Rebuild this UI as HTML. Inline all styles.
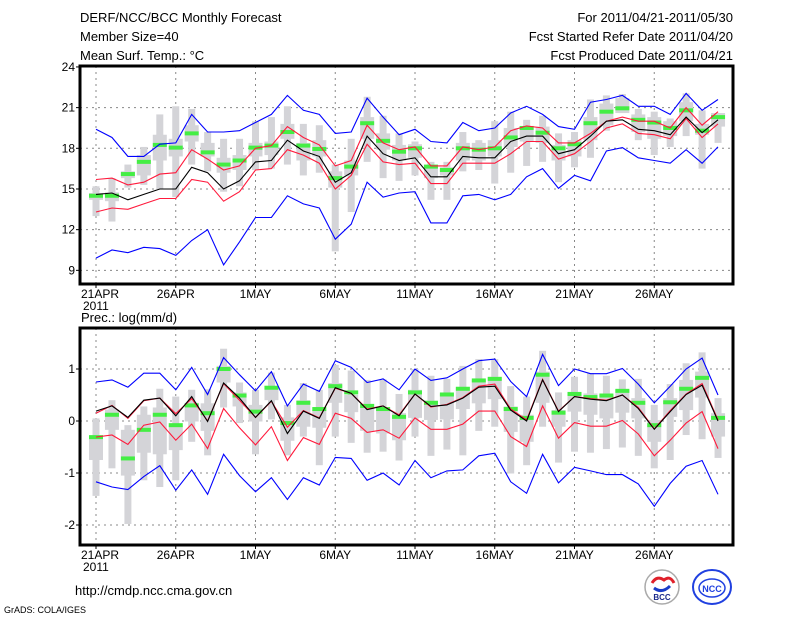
<!DOCTYPE html>
<html><head><meta charset="utf-8">
<style>
body{margin:0;background:#fff;}
svg{display:block;font-family:"Liberation Sans",sans-serif;}
</style></head>
<body>
<svg id="chart" width="800" height="618" viewBox="0 0 800 618" xmlns="http://www.w3.org/2000/svg">
<rect width="800" height="618" fill="#fff"/>
<g font-size="13" fill="#000">
<text x="80" y="22">DERF/NCC/BCC Monthly Forecast</text>
<text x="80" y="41">Member Size=40</text>
<text x="80" y="60">Mean Surf. Temp.: °C</text>
<text x="733" y="22" text-anchor="end">For 2011/04/21-2011/05/30</text>
<text x="733" y="41" text-anchor="end">Fcst Started Refer Date 2011/04/20</text>
<text x="733" y="60" text-anchor="end">Fcst Produced Date 2011/04/21</text>
<text x="81" y="322">Prec.: log(mm/d)</text>
<text x="75" y="595">http://cmdp.ncc.cma.gov.cn</text>
<text x="4" y="613" font-size="9">GrADS: COLA/IGES</text>
</g>
<g>
<circle cx="662" cy="587" r="17" fill="#fff" stroke="#aaa" stroke-width="1.5"/>
<path d="M652 583 q5 -8 12 -3 q6 -5 10 3" stroke="#e0202a" stroke-width="3" fill="none"/>
<path d="M654 588 q8 6 16 -2" stroke="#1a3cc8" stroke-width="3" fill="none"/>
<text x="662" y="600" font-size="8" text-anchor="middle" font-weight="bold" fill="#1a2a8a">BCC</text>
<ellipse cx="712" cy="587" rx="19" ry="17" fill="#fff" stroke="#2040e0" stroke-width="2"/>
<ellipse cx="712" cy="588" rx="13" ry="9" fill="none" stroke="#2040e0" stroke-width="1.5"/>
<text x="712" y="592" font-size="9" text-anchor="middle" font-weight="bold" fill="#2040e0">NCC</text>
</g>
<g id="plots"></g>
</svg>
<script>
// X axis
const days = 40;
const dateLabels = ["21APR","26APR","1MAY","6MAY","11MAY","16MAY","21MAY","26MAY"];
const dateIdx = [0,5,10,15,20,25,30,35];
// Temperature panel
const tTicks = [9,12,15,18,21,24];
const tBU = [19.4,18.8,17.4,17.4,18.3,18.4,20.5,19.2,19.2,19.3,19.9,20.5,21.9,20.8,20.5,19.1,19.2,21.7,20.3,19.0,19.4,18.5,18.4,19.9,19.3,19.5,20.6,21.1,20.5,19.6,19.4,21.4,21.6,21.9,21.1,21.1,20.5,22.05,20.8,21.6];
const tBL = [9.9,10.5,10.3,10.7,10.6,10.1,11.2,12.0,9.4,11.1,12.9,12.9,14.5,13.9,13.6,11.3,12.4,15.5,14.4,14.7,14.8,12.5,12.5,14.5,14.6,14.2,14.6,15.9,16.5,15.05,16.0,15.6,17.8,18.05,17.3,17.1,16.9,17.9,16.9,18.1];
const tRU = [15.7,15.8,15.3,15.5,16.1,16.2,17.9,17.2,16.4,16.7,18.0,18.2,19.6,18.8,18.25,16.7,17.1,19.7,18.4,17.9,18.1,16.7,16.7,18.1,17.9,18.1,19.3,19.65,19.5,18.4,18.4,19.1,20.0,20.3,20.0,20.0,19.5,21.0,19.7,20.7];
const tRL = [13.3,13.6,13.5,13.9,14.3,14.3,15.7,15.5,14.1,14.8,16.4,16.5,17.9,17.5,16.9,15.0,16.0,18.3,17.0,16.8,16.9,15.4,15.4,16.9,16.9,16.9,17.6,18.5,18.5,17.2,17.6,18.5,19.5,19.8,19.1,19.0,18.7,20.2,18.8,19.8];
const tMean = [14.6,14.7,14.2,14.6,15.0,15.0,16.6,16.2,15.0,15.6,17.0,17.1,18.6,17.8,17.4,15.5,16.2,18.9,17.6,17.1,17.3,15.9,15.9,17.4,17.3,17.3,18.5,18.9,18.9,17.6,17.9,18.9,20.0,20.1,19.4,19.3,19.0,20.3,19.15,20.1];
const tGreen = [14.5,14.5,16.1,17.0,18.25,18.05,19.1,17.7,16.8,17.1,18.05,18.2,19.2,18.2,17.95,15.8,16.65,19.85,18.55,17.75,18.0,16.65,16.4,18.0,17.9,18.0,18.8,19.5,19.15,18.0,18.3,19.85,20.7,20.95,20.1,19.9,19.5,20.8,19.3,20.3];
const tMax = [15.2,15.8,16.8,18.1,20.5,21.1,20.9,19.2,18.7,18.7,20.0,20.3,21.1,19.8,19.7,16.8,18.7,21.8,20.4,19.1,18.5,17.0,17.0,19.2,18.6,20.0,20.7,20.1,20.4,19.1,19.2,21.6,21.9,22.0,20.9,20.7,20.2,22.05,20.8,20.6];
const tMin = [13.0,12.6,15.1,15.3,15.0,14.4,16.8,16.3,14.8,15.2,16.4,16.5,16.8,16.0,16.2,10.4,13.3,17.0,15.8,15.6,16.0,14.2,14.2,16.3,16.4,15.4,16.2,16.7,17.0,15.5,16.6,17.3,19.3,20.6,18.6,17.5,18.1,18.9,16.5,18.4];
const tQ3 = [14.7,14.75,16.3,17.5,19.0,18.7,19.7,18.4,17.3,17.5,18.4,18.5,19.8,18.4,18.6,16.3,17.1,20.3,19.1,18.25,18.3,16.6,16.6,18.4,18.4,18.6,19.5,19.5,19.6,18.25,18.6,20.3,21.3,21.7,20.5,20.3,20.0,21.4,19.8,20.6];
const tQ1 = [14.2,14.1,15.8,16.0,17.1,17.4,18.5,17.4,16.2,16.4,17.4,17.5,18.7,17.1,17.4,15.1,16.0,18.7,17.9,17.1,17.3,15.8,16.0,17.1,17.1,17.4,18.1,18.5,18.4,17.1,17.4,18.6,19.7,20.6,19.2,18.7,18.9,20.0,19.0,19.6];
// Precip panel
const pTicks = [-2,-1,0,1];
const pBU = [0.75,0.79,0.65,0.92,0.92,0.6,1.03,0.51,1.22,0.89,0.58,0.95,0.29,0.71,0.57,1.16,1.03,0.74,0.81,0.6,1.0,0.78,0.83,1.0,1.16,1.19,0.76,0.47,1.28,0.68,1.0,0.91,0.91,1.01,0.71,0.35,0.67,1.0,1.21,0.5];
const pBL = [-1.17,-1.27,-1.32,-1.07,-0.86,-1.33,-0.94,-1.41,-0.64,-1.05,-1.36,-1.09,-1.51,-1.09,-1.23,-0.7,-0.72,-1.14,-1.0,-1.23,-0.76,-1.09,-0.96,-0.94,-0.67,-0.62,-1.17,-1.39,-0.64,-1.19,-0.89,-0.96,-1.03,-1.03,-1.21,-1.64,-1.2,-0.87,-0.76,-1.41];
const pMed = [0.19,0.29,0.07,0.4,0.44,0.1,0.47,-0.01,0.73,0.44,0.07,0.39,-0.24,0.19,0.05,0.64,0.53,0.22,0.29,0.1,0.52,0.28,0.31,0.44,0.65,0.67,0.21,0.0,0.79,0.18,0.47,0.42,0.39,0.5,0.24,-0.16,0.18,0.51,0.69,0.0];
const pRU = [0.15,0.3,0.05,0.39,0.44,0.14,0.43,0.0,0.72,0.4,0.07,0.38,-0.12,0.2,0.06,0.63,0.53,0.23,0.29,0.12,0.52,0.27,0.32,0.45,0.67,0.71,0.23,0.02,0.8,0.19,0.47,0.43,0.4,0.5,0.26,-0.15,0.2,0.52,0.72,0.02];
const pRL = [-0.31,-0.27,-0.45,-0.08,-0.02,-0.37,-0.06,-0.53,0.24,-0.13,-0.46,-0.11,-0.76,-0.32,-0.45,0.15,0.05,-0.22,-0.17,-0.33,0.06,-0.16,-0.16,-0.06,0.19,0.19,-0.3,-0.49,0.29,-0.33,-0.03,-0.1,-0.1,0.01,-0.25,-0.67,-0.37,-0.04,0.18,-0.53];
const pGreen = [-0.31,0.12,-0.72,-0.17,0.12,-0.08,0.3,0.15,1.0,0.49,0.18,0.64,-0.04,0.35,0.23,0.67,0.55,0.29,0.23,0.08,0.55,0.35,0.51,0.62,0.78,0.81,0.23,0.06,0.89,0.16,0.52,0.46,0.49,0.58,0.35,-0.08,0.36,0.62,0.83,0.06];
const pMax = [0.05,0.4,-0.08,0.28,0.62,0.47,0.6,0.61,1.39,0.74,0.6,0.93,0.31,0.73,0.6,1.08,0.97,0.79,0.8,0.52,1.0,0.87,0.81,1.06,1.19,1.19,0.67,0.47,1.35,0.55,0.85,0.92,0.87,0.8,0.81,0.31,0.71,1.11,1.32,0.44];
const pMin = [-1.44,-0.91,-1.98,-1.14,-1.27,-1.14,-0.4,-0.66,0.26,-0.04,-0.64,0.03,-0.66,-0.3,-0.85,-0.3,-0.42,-0.61,-0.59,-0.76,-0.3,-0.67,-0.55,-0.66,-0.19,-0.11,-1.01,-0.85,-0.11,-0.8,-0.59,-0.61,-0.54,-0.51,-0.67,-0.91,-0.75,-0.27,-0.35,-0.71];
const pQ3 = [-0.31,0.22,-0.17,0.12,0.26,-0.08,0.35,0.34,1.06,0.55,0.31,0.67,0.07,0.4,0.21,0.73,0.5,0.33,0.26,0.15,0.6,0.39,0.53,0.65,0.79,0.85,0.28,0.12,0.95,0.21,0.56,0.53,0.5,0.6,0.44,0.02,0.44,0.79,0.95,0.15];
const pQ1 = [-0.75,-0.17,-1.05,-0.61,-0.64,-0.56,-0.01,-0.19,0.74,0.28,-0.01,0.4,-0.38,-0.11,-0.13,0.35,0.17,-0.19,-0.24,-0.37,0.06,0.02,0.03,0.23,0.34,0.42,-0.21,-0.4,0.35,-0.11,0.18,0.12,0.05,0.16,0.05,-0.4,0.08,0.21,0.45,-0.3];

const NS = "http://www.w3.org/2000/svg";
const root = document.getElementById('plots');
function mk(tag, attrs, parent){const e=document.createElementNS(NS,tag);for(const k in attrs)e.setAttribute(k,attrs[k]);(parent||root).appendChild(e);return e;}
const xScale = d => 96 + 15.95*d;
const L=80, R=733;

function panel(name, top, bottom, yScale, ticks, gridTicks, S){
  const g = mk('g',{});
  
  
  // grid
  gridTicks.forEach(v=>{
    const l = mk('line',{x1:L,x2:R,y1:yScale(v),y2:yScale(v),stroke:'#888','stroke-dasharray':'2,4','stroke-width':1},g);
    
    
  });
  dateIdx.forEach(d=>{
    const l = mk('line',{x1:xScale(d),x2:xScale(d),y1:top,y2:bottom,stroke:'#888','stroke-dasharray':'2,4','stroke-width':1},g);
    
    
  });
  // bars
  for(let i=0;i<days;i++){
    const x=xScale(i);
    const w = mk('rect',{x:x-3.5,width:7,y:yScale(S.max[i]),height:yScale(S.min[i])-yScale(S.max[i]),fill:'#d4d4d8'},g);
    
    
    const b = mk('rect',{x:x-7,width:14,y:yScale(S.q3[i]),height:yScale(S.q1[i])-yScale(S.q3[i]),fill:'#d4d4d8'},g);
    
    
  }
  for(let i=0;i<days;i++){
    const gm = mk('rect',{x:xScale(i)-7,width:14,y:yScale(S.green[i])-2,height:4,fill:'#44ee44'},g);
    
    
  }
  const lines=[[S.bu,'#0000ff','upper-extreme-line'],[S.bl,'#0000ff','lower-extreme-line'],[S.ru,'#ff1a3c','upper-spread-line'],[S.rl,'#ff1a3c','lower-spread-line'],[S.mid,'#000','ensemble-mean-line']];
  lines.forEach(([arr,c,n])=>{
    const p = mk('polyline',{points:arr.map((v,i)=>xScale(i).toFixed(1)+','+yScale(v).toFixed(1)).join(' '),fill:'none',stroke:c,'stroke-width':1.1},g);
    
    
  });
  // frame
  const f = mk('rect',{x:L,y:top,width:R-L,height:bottom-top,fill:'none',stroke:'#000','stroke-width':3},g);
  
  
  ticks.forEach(v=>{
    const t = mk('text',{x:75,y:yScale(v)+4,'text-anchor':'end','font-size':12},g);
    t.textContent = v;
    
    
    mk('line',{x1:L-4,x2:L,y1:yScale(v),y2:yScale(v),stroke:'#000'},g);
  });
  dateIdx.forEach((d,k)=>{
    const t = mk('text',{x:xScale(d),y:bottom+14,'text-anchor':k==0?'start':'middle','font-size':12},g);
    if(k==0) t.setAttribute('x', 81);
    t.textContent = dateLabels[k];
    
    
    mk('line',{x1:xScale(d),x2:xScale(d),y1:bottom,y2:bottom+4,stroke:'#000'},g);
  });
  const yr = mk('text',{x:83,y:bottom+26,'font-size':12},g);
  yr.textContent='2011';
  
  
}

const yT = v => 148.3 - (v-18)*13.56;
const yB = v => 421 - v*52;
panel('temperature-panel',66,284,yT,tTicks,[9,12,15,18,21],{bu:tBU,bl:tBL,ru:tRU,rl:tRL,mid:tMean,green:tGreen,max:tMax,min:tMin,q3:tQ3,q1:tQ1});
panel('precipitation-panel',328,545,yB,pTicks,[-2,-1,0,1],{bu:pBU,bl:pBL,ru:pRU,rl:pRL,mid:pMed,green:pGreen,max:pMax,min:pMin,q3:pQ3,q1:pQ1});
</script>
</body></html>
